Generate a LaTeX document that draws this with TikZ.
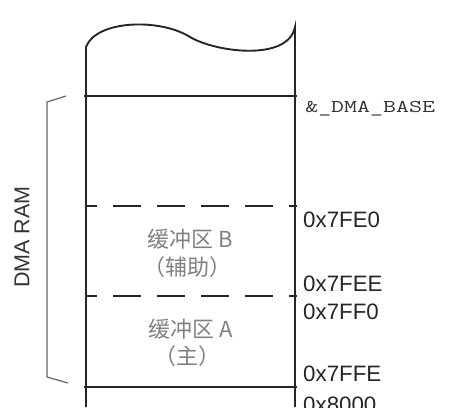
\documentclass[tikz,border=0pt]{standalone}
\usepackage{fontspec}
\setmainfont{Liberation Sans}
\newfontfamily\cjk{Noto Sans CJK SC}
\begin{document}
\begin{tikzpicture}[x=1pt,y=-1pt,
  wall/.style={line width=1.9pt,black!85},
  sepline/.style={line width=1.9pt,black!85},
  dashline/.style={line width=1.9pt,black!85,dash pattern=on 28pt off 16pt,dash phase=17pt},
  addr/.style={anchor=base west,inner sep=0pt,font=\fontsize{22.3}{24}\selectfont,text=black!85},
  monol/.style={anchor=base west,inner sep=0pt,font=\ttfamily\fontsize{18}{20}\selectfont,text=black!80,xscale=1.4},
  bufl/.style={inner sep=0pt,font=\cjk\fontsize{22}{24}\selectfont,text=black!50},
  brace/.style={line width=1.2pt,black!60}]
\useasboundingbox (0,0) rectangle (449,407);
% top wave and walls
\draw[wall] (86,407) -- (86,47) .. controls (96,20) and (160,18) .. (190,37)
  .. controls (215,52) and (288,62) .. (295,27) -- (295,407);
% separators
\draw[sepline] (84,96) -- (297,96);
\draw[dashline] (86,206) -- (297,206);
\draw[dashline] (86,296) -- (297,296);
\draw[sepline] (84,387) -- (297,387);
% labels
\node[monol] (base) at (305,112) {\&\_DMA\_BASE};
\node[addr] (a1) at (303,227) {0x7FE0};
\node[addr] (a2) at (303,291) {0x7FEE};
\node[addr] (a3) at (303,319) {0x7FF0};
\node[addr] (a4) at (303,381) {0x7FFE};
\node[addr] (a5) at (303,412) {0x8000};
% buffers
\node[bufl] (bB) at (190.5,239) {缓冲区 B};
\node[bufl] (bB2) at (187,267) {（辅助）};
\node[bufl] (bA) at (190.5,329) {缓冲区 A};
\node[bufl] (bA2) at (187,356) {（主）};
% brace
\draw[brace] (66,96) -- (47,102) -- (47,377) -- (68,383);
\node[rotate=90,inner sep=0pt,font=\fontsize{21.5}{24}\selectfont,text=black!80] (dma) at (22,237) {DMA RAM};
\end{tikzpicture}
\end{document}
